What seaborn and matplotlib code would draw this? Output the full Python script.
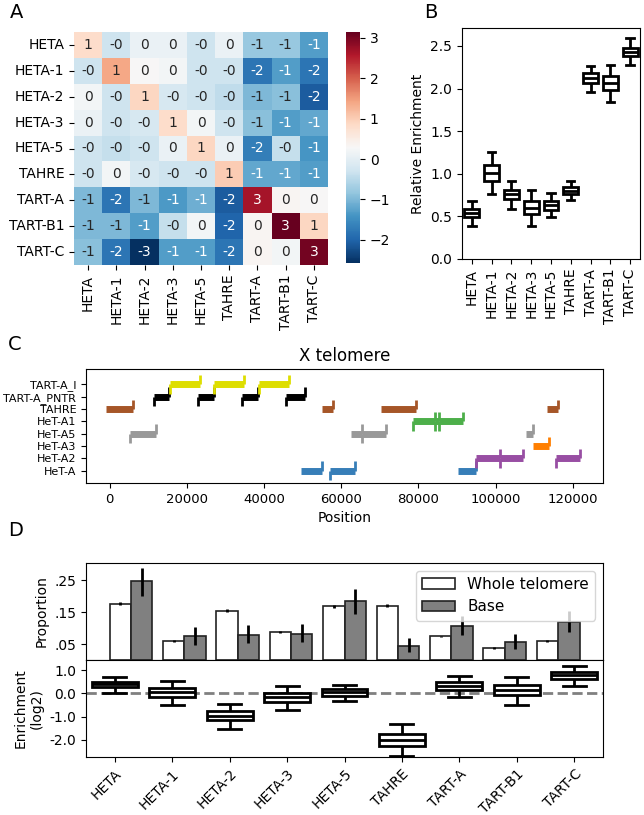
import numpy as np
import pandas as pd
import matplotlib
matplotlib.use('Agg')
import matplotlib.pyplot as plt
import seaborn as sns

plt.rcParams['font.family'] = ['DejaVu Sans']
plt.rcParams['font.size'] = 10

elements = ['HETA', 'HETA-1', 'HETA-2', 'HETA-3', 'HETA-5', 'TAHRE', 'TART-A', 'TART-B1', 'TART-C']

# A: pairwise matrix, one list per row
row_heta = [0.8, -0.3, 0.1, 0.1, -0.3, 0.1, -0.8, -0.8, -1.3]
row_heta1 = [-0.3, 1.4, 0.3, 0.2, -0.3, -0.3, -1.8, -1.3, -1.8]
row_heta2 = [0.2, -0.3, 0.9, -0.2, -0.3, -0.45, -1.0, -0.9, -2.1]
row_heta3 = [0.1, -0.3, -0.2, 0.8, 0.2, -0.3, -0.9, -1.3, -1.2]
row_heta5 = [-0.3, -0.4, -0.3, 0.1, 0.9, 0.1, -1.7, -0.4, -1.4]
row_tahre = [-0.3, 0.2, -0.2, -0.3, -0.3, 1.0, -1.2, -1.2, -1.3]
row_tarta = [-1.0, -1.8, -1.0, -1.35, -1.1, -2.1, 2.65, 0.35, 0.3]
row_tartb1 = [-1.0, -1.0, -1.3, -0.4, 0.2, -2.0, 0.35, 3.14, 0.9]
row_tartc = [-0.9, -1.8, -2.57, -1.3, -1.3, -1.8, 0.35, 0.2, 3.05]

# B: relative enrichment box summaries (whisker low, q1, median, q3, whisker high)
rel_low = [0.39, 0.76, 0.59, 0.39, 0.49, 0.69, 1.96, 1.84, 2.28]
rel_q1 = [0.49, 0.92, 0.70, 0.53, 0.58, 0.76, 2.07, 1.98, 2.38]
rel_med = [0.54, 1.01, 0.76, 0.60, 0.63, 0.80, 2.12, 2.07, 2.43]
rel_q3 = [0.59, 1.10, 0.81, 0.68, 0.68, 0.85, 2.18, 2.15, 2.48]
rel_high = [0.68, 1.26, 0.91, 0.81, 0.78, 0.91, 2.27, 2.28, 2.59]

# C: X telomere element tracks (positions in bp)
tracks = ['HeT-A', 'HeT-A2', 'HeT-A3', 'HeT-A5', 'HeT-A1', 'TAHRE', 'TART-A_PNTR', 'TART-A_I']
track_colors = ['#377eb8', '#984ea3', '#ff7f00', '#999999', '#4daf4a', '#a65628', 'black', '#dede00']
seg_start = {
    'HeT-A': [49600, 57000, 90200],
    'HeT-A2': [95000, 101200, 115500],
    'HeT-A3': [109600],
    'HeT-A5': [5400, 62500, 65400, 107800],
    'HeT-A1': [78700, 84200, 85400],
    'TAHRE': [-1000, 55100, 70300, 113400],
    'TART-A_PNTR': [11500, 22800, 34300, 45700],
    'TART-A_I': [15700, 27100, 38600],
}
seg_end = {
    'HeT-A': [54900, 63600, 95000],
    'HeT-A2': [101200, 107200, 121900],
    'HeT-A3': [113900],
    'HeT-A5': [12000, 65400, 71600, 109600],
    'HeT-A1': [84200, 85400, 91500],
    'TAHRE': [6200, 57800, 79400, 116100],
    'TART-A_PNTR': [15500, 27000, 38500, 50500],
    'TART-A_I': [23400, 34900, 46400],
}
seg_cuts = {
    'HeT-A': [57000],
    'HeT-A2': [95000, 101200, 115500],
    'HeT-A3': [],
    'HeT-A5': [5400, 65400],
    'HeT-A1': [78700, 84200, 85400],
    'TAHRE': [],
    'TART-A_PNTR': [11500, 22800, 34300, 45700],
    'TART-A_I': [15700, 27100, 38600],
}

# D: proportions and enrichment
prop_whole = [0.177, 0.060, 0.155, 0.089, 0.169, 0.171, 0.074, 0.038, 0.060]
prop_whole_err = [0.004, 0.002, 0.004, 0.003, 0.004, 0.004, 0.003, 0.002, 0.003]
prop_base = [0.249, 0.074, 0.079, 0.083, 0.184, 0.045, 0.108, 0.056, 0.119]
base_lo = [0.202, 0.048, 0.055, 0.057, 0.146, 0.026, 0.078, 0.036, 0.089]
base_hi = [0.289, 0.104, 0.109, 0.112, 0.223, 0.069, 0.139, 0.083, 0.153]

enr_low = [0.03, -0.49, -1.54, -0.74, -0.34, -2.71, -0.15, -0.49, 0.33]
enr_q1 = [0.26, -0.14, -1.16, -0.39, -0.10, -2.27, 0.14, -0.06, 0.61]
enr_med = [0.39, 0.07, -0.96, -0.17, 0.04, -2.00, 0.33, 0.14, 0.79]
enr_q3 = [0.48, 0.24, -0.77, 0.00, 0.17, -1.74, 0.47, 0.34, 0.92]
enr_high = [0.69, 0.51, -0.46, 0.31, 0.36, -1.33, 0.74, 0.69, 1.16]

W, H = 644, 815
fig = plt.figure(figsize=(W / 100, H / 100), dpi=100)


def box(l, t, r, b):
    return fig.add_axes([l / W, 1 - b / H, (r - l) / W, (b - t) / H])


# ---- A: heatmap
mat = pd.DataFrame([row_heta, row_heta1, row_heta2, row_heta3, row_heta5,
                    row_tahre, row_tarta, row_tartb1, row_tartc],
                   index=elements, columns=elements)
ax_a = box(74, 32, 328, 265)
cax = box(346, 32, 360, 263)
sns.heatmap(mat, cmap='RdBu_r', annot=True, fmt='.0f', ax=ax_a, cbar_ax=cax,
            annot_kws={'fontsize': 10})
ax_a.set_yticklabels(elements, rotation=0)
ax_a.set_xticklabels(elements, rotation=90)
cax.tick_params(labelsize=10)

# ---- B: relative enrichment boxplot
rel_df = pd.DataFrame({
    'element': np.repeat(elements, 5),
    'value': np.column_stack([rel_low, rel_q1, rel_med, rel_q3, rel_high]).ravel(),
})
ax_b = box(462, 28, 640, 259)
sns.boxplot(data=rel_df, x='element', y='value', ax=ax_b, color='white', linecolor='black',
            linewidth=2, whis=(0, 100), width=0.75, showfliers=False)
ax_b.set_ylim(0, 2.71)
ax_b.set_yticks([0, 0.5, 1.0, 1.5, 2.0, 2.5])
ax_b.set_xlabel('')
ax_b.set_ylabel('Relative Enrichment')
ax_b.tick_params(axis='x', rotation=90)

# ---- C: telomere map
ax_c = box(86, 369, 603, 483)
for i, (name, col) in enumerate(zip(tracks, track_colors)):
    ax_c.hlines([i] * len(seg_start[name]), seg_start[name], seg_end[name], color=col,
                lw=5, capstyle='butt')
    ax_c.vlines(seg_end[name], i, i + 0.75, color=col, lw=2)
    ax_c.vlines(seg_cuts[name], i - 0.75, i, color=col, lw=2)
ax_c.set_yticks(range(len(tracks)))
ax_c.set_yticklabels(tracks, fontsize=8)
ax_c.set_ylim(-1, 8.25)
ax_c.set_xlim(-6100, 127800)
ax_c.set_xticks([0, 20000, 40000, 60000, 80000, 100000, 120000])
ax_c.tick_params(axis='x', labelsize=9.5)
ax_c.set_xlabel('Position', fontsize=10)
ax_c.set_title('X telomere', fontsize=12)

# ---- D top: proportions
prop_df = pd.DataFrame({
    'element': elements * 2,
    'source': ['Whole telomere'] * 9 + ['Base'] * 9,
    'value': prop_whole + prop_base,
})
ax_d1 = box(86, 563, 603, 660)
sns.barplot(data=prop_df, x='element', y='value', hue='source', ax=ax_d1, errorbar=None,
            palette={'Whole telomere': 'white', 'Base': 'gray'}, edgecolor='#222222',
            linewidth=1.2, width=0.8)
whole_bars, base_bars = ax_d1.containers[0], ax_d1.containers[1]
xw = [b.get_x() + b.get_width() / 2 for b in whole_bars]
xb = [b.get_x() + b.get_width() / 2 for b in base_bars]
ax_d1.vlines(xw, np.array(prop_whole) - np.array(prop_whole_err),
             np.array(prop_whole) + np.array(prop_whole_err), color='black', lw=2)
ax_d1.vlines(xb, base_lo, base_hi, color='black', lw=2)
handles, labels = ax_d1.get_legend_handles_labels()
ax_d1.legend(handles, labels, loc='upper right', fontsize=11, handlelength=2.2)
ax_d1.set_ylim(0, 0.305)
ax_d1.set_yticks([0.05, 0.15, 0.25])
ax_d1.set_yticklabels(['.05', '.15', '.25'])
ax_d1.set_xlabel('')
ax_d1.set_ylabel('Proportion')
ax_d1.set_xticklabels([])

# ---- D bottom: enrichment
enr_df = pd.DataFrame({
    'element': np.repeat(elements, 5),
    'value': np.column_stack([enr_low, enr_q1, enr_med, enr_q3, enr_high]).ravel(),
})
ax_d2 = box(86, 660, 603, 757)
ax_d2.axhline(0, color='gray', ls='--', lw=2, zorder=0)
sns.boxplot(data=enr_df, x='element', y='value', ax=ax_d2, color='white', linecolor='black',
            linewidth=2, whis=(0, 100), width=0.8, showfliers=False)
ax_d2.set_ylim(-2.74, 1.43)
ax_d2.set_yticks([1, 0, -1, -2])
ax_d2.set_yticklabels(['1.0', '0.0', '-1.0', '-2.0'])
ax_d2.set_xlabel('')
ax_d2.set_ylabel('Enrichment\n(log2)')
plt.setp(ax_d2.get_xticklabels(), rotation=45, ha='right', rotation_mode='anchor')

for lab, x, y in [('A', 10, 13), ('B', 424, 13), ('C', 8, 345), ('D', 8, 530)]:
    fig.text(x / W, 1 - y / H, lab, fontsize=14, va='center', ha='left')

fig.savefig('out.png', dpi=100)
